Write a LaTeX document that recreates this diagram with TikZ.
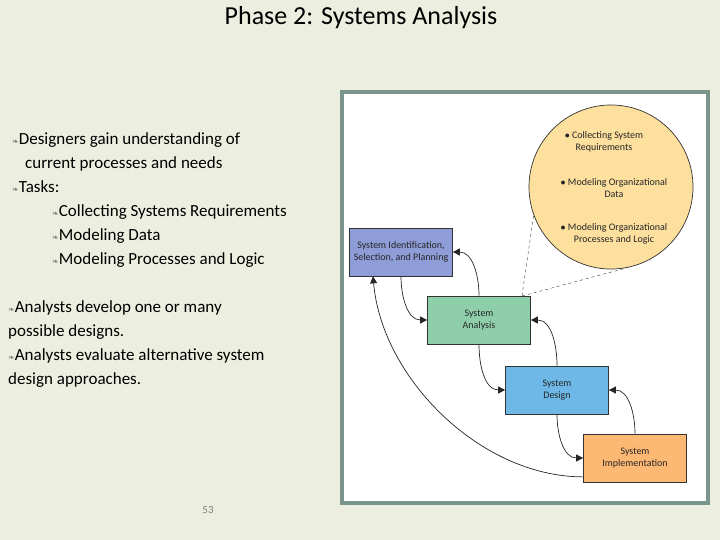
\documentclass[tikz,border=0pt]{standalone}
\usepackage{fontspec}
\setmainfont{Carlito}
\newfontfamily\dv{DejaVu Sans}
\usetikzlibrary{arrows.meta}
\definecolor{bg}{HTML}{ECEFDF}
\definecolor{frm}{HTML}{7A968C}
\definecolor{cplan}{HTML}{8E9CD8}
\definecolor{cana}{HTML}{8ECFAA}
\definecolor{cdes}{HTML}{6DB8E6}
\definecolor{cimp}{HTML}{FDB874}
\definecolor{ccirc}{HTML}{FDDF9E}
\newcommand{\bul}{{\dv\fontsize{8}{8}\selectfont\color{gray}❧}}
\tikzset{
 box/.style={draw=black!80, line width=0.7pt, minimum width=103pt, minimum height=48pt, align=center, font=\fontsize{10}{12}\selectfont\color{black!85}, inner sep=1pt},
 flow/.style={-{Triangle[length=7pt,width=7pt]}, line width=0.7pt, black!85},
 txt/.style={anchor=north west, align=left, font=\fontsize{17}{24}\selectfont, inner sep=0pt}
}
\begin{document}
\begin{tikzpicture}[x=1pt,y=-1pt]
\fill[bg] (0,0) rectangle (720,540);
\useasboundingbox (0,0) rectangle (720,540);
\node[font=\fontsize{26}{30}\selectfont] (title) at (361,18) {Phase 2: Systems Analysis};
\node[txt] (t1) at (12,132) {\bul Designers gain understanding of\\[-0pt]\hspace*{13pt}current processes and needs\\\bul Tasks:\\\hspace*{40pt}\bul Collecting Systems Requirements\\\hspace*{40pt}\bul Modeling Data\\\hspace*{40pt}\bul Modeling Processes and Logic};
\node[txt] (t2) at (8,300) {\bul Analysts develop one or many\\possible designs.\\\bul Analysts evaluate alternative system\\design approaches.};
\node[font=\fontsize{11}{12}\selectfont, text=gray] (pg) at (208,510) {53};
\draw[frm, line width=4pt, fill=white] (342,92) rectangle (708,503);
\node[draw=black!80, line width=0.7pt, fill=ccirc, circle, minimum size=164pt, inner sep=0pt] (circ) at (611,187) {};
\node[align=center, font=\fontsize{10}{12}\selectfont\color{black!85}] (c1) at (604,142) {$\bullet$ Collecting System\\Requirements};
\node[align=center, font=\fontsize{10}{12}\selectfont\color{black!85}] (c2) at (614,188) {$\bullet$ Modeling Organizational\\Data};
\node[align=center, font=\fontsize{10}{12}\selectfont\color{black!85}] (c3) at (614,234) {$\bullet$ Modeling Organizational\\Processes and Logic};
\node[box, fill=cplan] (plan) at (401,252) {System Identification,\\Selection, and Planning};
\node[box, fill=cana] (ana) at (479,320) {System\\Analysis};
\node[box, fill=cdes] (des) at (557,390) {System\\Design};
\node[box, fill=cimp] (imp) at (635,458) {System\\Implementation};
\coordinate (d1) at (522,296);
\draw[dashed, black!80] (d1) -- (circ.200);
\draw[dashed, black!80] (d1) -- (circ.282);
\draw[flow] (ana.north) to[out=90,in=0] (plan.east);
\draw[flow] (plan.south) to[out=-90,in=180] (ana.west);
\draw[flow] (ana.south) to[out=-90,in=180] (des.west);
\draw[flow] (des.north) to[out=90,in=0] (ana.east);
\draw[flow] (des.south) to[out=-90,in=180] (imp.west);
\draw[flow] (imp.north) to[out=90,in=0] (des.east);
\draw[flow] (imp.200) to[out=180,in=-85,looseness=0.9] ([xshift=-28pt]plan.south);
\end{tikzpicture}
\end{document}
